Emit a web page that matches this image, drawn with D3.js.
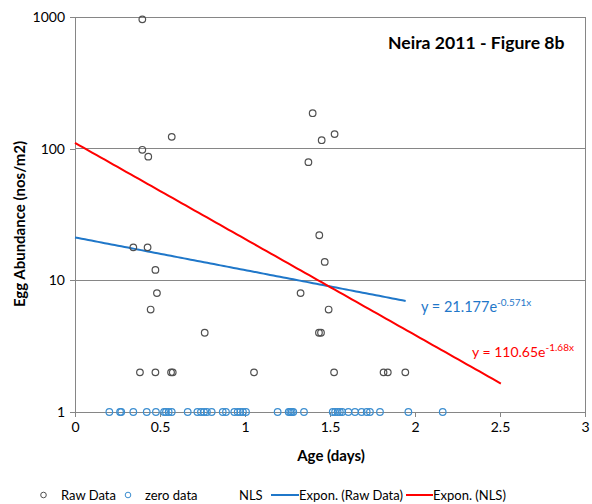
<!DOCTYPE html>
<html>
<head>
<meta charset="utf-8">
<script src="https://cdn.jsdelivr.net/npm/d3@7"></script>
<style>
  body { margin: 0; background: #fff; }
  svg { display: block; font-family: Lato, "Open Sans", sans-serif; }
</style>
</head>
<body>
<svg id="chart" width="592" height="504"></svg>
<script>
// ---- data ----
const rawAge = [0.396, 0.569, 0.396, 0.431, 0.343, 0.427, 0.473, 0.482, 0.445, 0.763,
  0.382, 0.473, 0.565, 0.575, 1.053,
  1.398, 1.527, 1.451, 1.373, 1.437, 1.469, 1.327, 1.492, 1.435, 1.447,
  1.524, 1.815, 1.840, 1.943];
const rawAbundance = [960, 123, 98, 87, 17.8, 17.8, 12, 8, 6, 4,
  2, 2, 2, 2, 2,
  186, 129, 116, 79, 22, 13.8, 8, 6, 4, 4,
  2, 2, 2, 2];
const zeroAge = [0.202, 0.265, 0.272, 0.343, 0.422, 0.476, 0.524, 0.535, 0.551, 0.569,
  0.663, 0.72, 0.741, 0.759, 0.776, 0.804, 0.869, 0.888, 0.937, 0.957, 0.972, 0.988, 1.006,
  1.192, 1.257, 1.266, 1.275, 1.284, 1.347,
  1.516, 1.53, 1.545, 1.558, 1.572, 1.608, 1.647, 1.686, 1.716, 1.735, 1.794, 1.961, 2.163];
const zeroValue = 1;
const rawFit = { a: 21.177, b: -0.571, xStart: 0, xEnd: 1.945 };
const nlsFit = { a: 110.65, b: -1.68, xStart: 0, xEnd: 2.505 };
const xTicks = [0, 0.5, 1, 1.5, 2, 2.5, 3];
const xTickLabels = ["0", "0.5", "1", "1.5", "2", "2.5", "3"];
const yTicks = [1, 10, 100, 1000];
const yTickLabels = ["1", "10", "100", "1000"];
const legendLabels = ["Raw Data", "zero data", "NLS", "Expon. (Raw Data)", "Expon. (NLS)"];

// ---- layout ----
const svg = d3.select("#chart");
const L = 75, R = 585, T = 17, B = 412;
const x = d3.scaleLinear().domain([0, 3]).range([L, R]);
const y = d3.scaleLog().domain([1, 1000]).range([B, T]);

const gray = "#868686";
const blue = "#1f77c9";
const red = "#ff0000";

// gridlines
svg.append("g").selectAll("line").data([10, 100]).join("line")
  .attr("x1", L).attr("x2", R)
  .attr("y1", d => y(d)).attr("y2", d => y(d))
  .attr("stroke", gray).attr("stroke-width", 1).attr("shape-rendering", "crispEdges");

// frame top/right
svg.append("path")
  .attr("d", `M${L},${y(1000)}H${R}V${B}`)
  .attr("fill", "none").attr("stroke", gray).attr("shape-rendering", "crispEdges");

// axes
const xAxis = d3.axisBottom(x).tickValues(xTicks).tickFormat((d, i) => xTickLabels[i]).tickSize(5).tickPadding(5);
const gx = svg.append("g").attr("transform", `translate(0,${B})`).call(xAxis);
const yAxis = d3.axisLeft(y).tickValues(yTicks).tickFormat((d, i) => yTickLabels[i]).tickSize(5).tickPadding(5);
const gy = svg.append("g").attr("transform", `translate(${L},0)`).call(yAxis);
[gx, gy].forEach(g => {
  g.select(".domain").attr("stroke", gray).attr("shape-rendering", "crispEdges");
  g.selectAll(".tick line").attr("stroke", gray).attr("shape-rendering", "crispEdges");
  g.selectAll(".tick text").attr("fill", "#000").attr("font-size", 14).attr("font-family", "Lato, sans-serif");
});
gx.select(".domain").attr("d", `M${L},0H${R}`);
gy.select(".domain").attr("d", `M0,${B}V${T}`);

// fit lines
function fitLine(f, color) {
  const pts = d3.range(0, 101).map(i => {
    const xv = f.xStart + (f.xEnd - f.xStart) * i / 100;
    return [xv, f.a * Math.exp(f.b * xv)];
  });
  svg.append("path").datum(pts)
    .attr("d", d3.line().x(d => x(d[0])).y(d => y(d[1])))
    .attr("fill", "none").attr("stroke", color).attr("stroke-width", 2);
}
fitLine(rawFit, blue);
fitLine(nlsFit, red);

// points
svg.append("g").selectAll("circle").data(zeroAge).join("circle")
  .attr("cx", d => x(d)).attr("cy", y(zeroValue)).attr("r", 3.3)
  .attr("fill", "none").attr("stroke", "#3c8ed0").attr("stroke-width", 1.2);
svg.append("g").selectAll("circle").data(rawAge).join("circle")
  .attr("cx", d => x(d)).attr("cy", (d, i) => y(rawAbundance[i])).attr("r", 3.3)
  .attr("fill", "none").attr("stroke", "#505050").attr("stroke-width", 1.2);

// equations
function equation(xp, yp, a, b, color, fs) {
  const t = svg.append("text").attr("x", xp).attr("y", yp).attr("fill", color)
    .attr("font-size", fs).attr("font-family", "Lato, sans-serif");
  t.append("tspan").text(`y = ${a}e`);
  t.append("tspan").attr("dy", -6).attr("font-size", 10).text(`${b}x`);
}
equation(421, 312, "21.177", rawFit.b.toFixed(3), blue, 14.5);
equation(472, 357, "110.65", nlsFit.b.toFixed(2), red, 14);

// title
svg.append("text").attr("x", 388).attr("y", 49).attr("font-size", 17.6).attr("font-weight", "bold")
  .attr("font-family", "Lato, sans-serif").text("Neira 2011 - Figure 8b");

// axis titles
svg.append("text").attr("x", 331).attr("y", 461).attr("text-anchor", "middle")
  .attr("font-size", 15).attr("font-weight", "bold").attr("font-family", "Lato, sans-serif").text("Age (days)");
svg.append("text").attr("transform", "translate(25,224) rotate(-90)").attr("text-anchor", "middle")
  .attr("font-size", 15).attr("font-weight", "bold").attr("font-family", "Lato, sans-serif").text("Egg Abundance (nos/m2)");

// legend
const ly = 495;
const lg = svg.append("g").attr("font-size", 13).attr("font-family", "Lato, sans-serif");
lg.append("circle").attr("cx", 43.5).attr("cy", ly).attr("r", 2.8).attr("fill", "none").attr("stroke", "#505050");
lg.append("text").attr("x", 61).attr("y", ly + 4.5).text(legendLabels[0]);
lg.append("circle").attr("cx", 128).attr("cy", ly).attr("r", 2.8).attr("fill", "none").attr("stroke", "#3c8ed0");
lg.append("text").attr("x", 145).attr("y", ly + 4.5).text(legendLabels[1]);
lg.append("text").attr("x", 239).attr("y", ly + 4.5).text(legendLabels[2]);
lg.append("line").attr("x1", 271).attr("x2", 299).attr("y1", ly).attr("y2", ly).attr("stroke", blue).attr("stroke-width", 2);
lg.append("text").attr("x", 299).attr("y", ly + 4.5).text(legendLabels[3]);
lg.append("line").attr("x1", 406).attr("x2", 433).attr("y1", ly).attr("y2", ly).attr("stroke", red).attr("stroke-width", 2);
lg.append("text").attr("x", 433).attr("y", ly + 4.5).text(legendLabels[4]);
</script>
</body>
</html>
